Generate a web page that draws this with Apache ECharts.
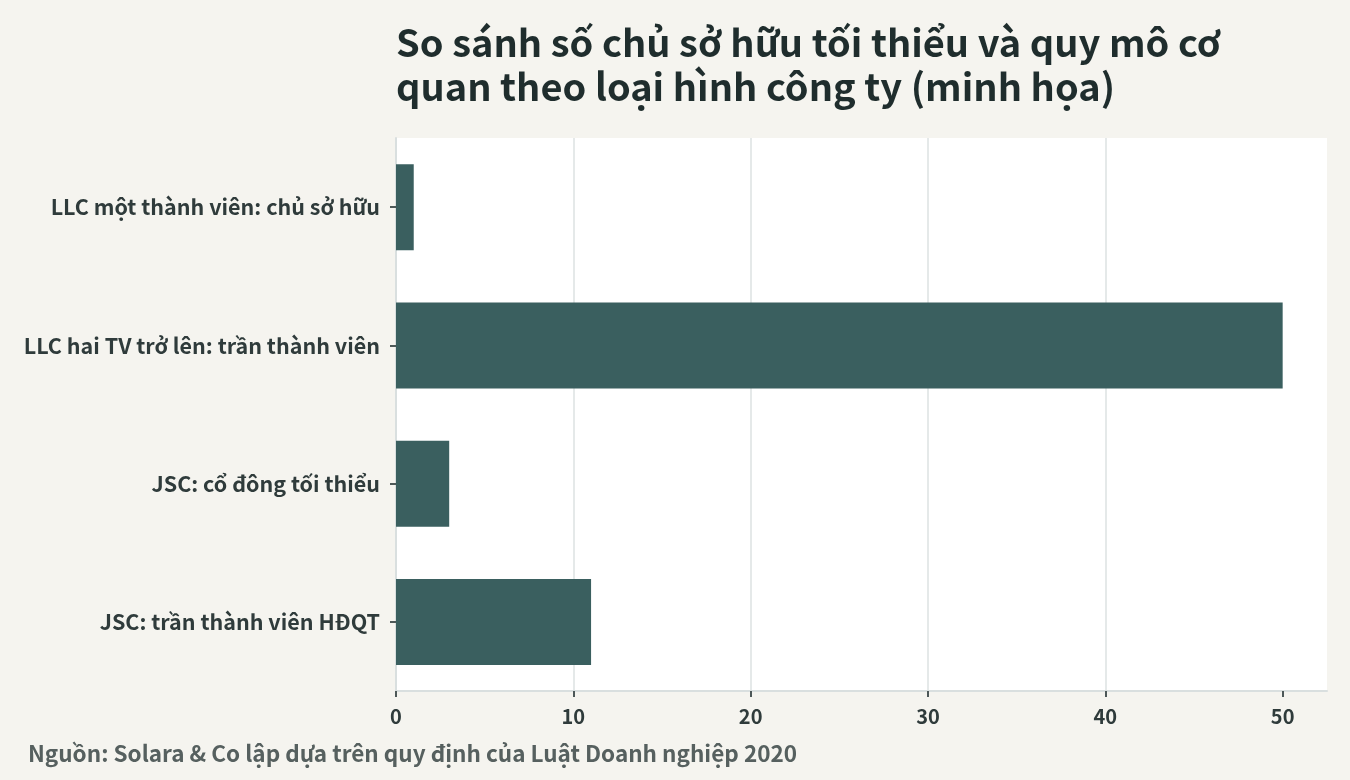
<!DOCTYPE html>
<html><head><meta charset="utf-8">
<script src="https://cdn.jsdelivr.net/npm/echarts@6/dist/echarts.min.js"></script>
<style>html,body{margin:0;padding:0;background:#f5f4ef;}#c{width:1350px;height:780px;}</style>
</head><body><div id="c"></div>
<script>
const categories = ["LLC một thành viên: chủ sở hữu","LLC hai TV trở lên: trần thành viên","JSC: cổ đông tối thiểu","JSC: trần thành viên HĐQT"];
const values = [1, 50, 3, 11];
const xTicks = [0, 10, 20, 30, 40, 50];
const titleText = "So sánh số chủ sở hữu tối thiểu và quy mô cơ\nquan theo loại hình công ty (minh họa)";
const sourceText = "Nguồn: Solara & Co lập dựa trên quy định của Luật Doanh nghiệp 2020";
const FONT = '"Noto Sans CJK SC","Noto Sans",sans-serif';
const chart = echarts.init(document.getElementById('c'));
chart.setOption({
  backgroundColor: '#f5f4ef',
  textStyle: {fontFamily: FONT},
  title: {
    text: titleText, left: 391, top: 16,
    textStyle: {fontFamily: FONT, fontSize: 38, fontWeight: 'bold', color: '#1f2d2d', lineHeight: 44}
  },
  graphic: [{
    type: 'text', left: 28, top: 742,
    style: {text: sourceText, font: 'bold 22.5px ' + FONT, fill: '#56605f'}
  }],
  grid: {left: 396, right: 23, top: 138, bottom: 89, show: true, backgroundColor: '#ffffff', borderWidth: 0},
  xAxis: {
    type: 'value', min: 0, max: 52.5, interval: 10,
    axisLine: {show: true, lineStyle: {color: '#d9dfdf', width: 2}},
    axisTick: {show: true, length: 6, lineStyle: {color: '#4d5858', width: 2}, customValues: xTicks},
    axisLabel: {customValues: xTicks, fontSize: 20, fontWeight: 'bold', color: '#2f3b3b', margin: 15, fontFamily: FONT},
    splitLine: {show: true, showMaxLine: false, lineStyle: {color: '#dde2e2', width: 1.5}}
  },
  yAxis: {
    type: 'category', data: categories, inverse: true,
    axisLine: {show: true, lineStyle: {color: '#d9dfdf', width: 2}},
    axisTick: {show: true, alignWithLabel: true, length: 6, lineStyle: {color: '#4d5858', width: 2}},
    axisLabel: {fontSize: 21.5, fontWeight: 'bold', color: '#2f3b3b', margin: 16, fontFamily: FONT},
    splitLine: {show: false}
  },
  series: [{
    type: 'bar', data: values, barWidth: 86,
    itemStyle: {color: '#3a5f5f'}, silent: true
  }]
});
</script></body></html>
